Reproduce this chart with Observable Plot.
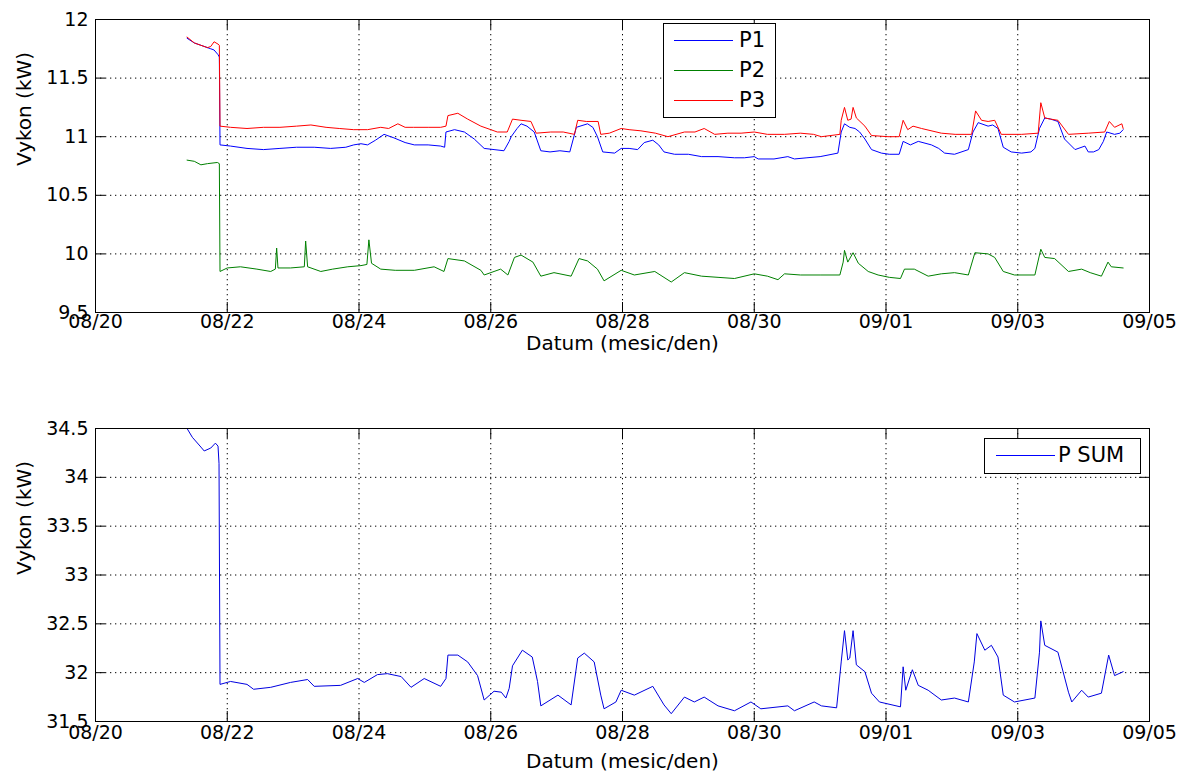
<!DOCTYPE html>
<html>
<head>
<meta charset="utf-8">
<script src="https://cdn.jsdelivr.net/npm/d3@7"></script>
<script src="https://cdn.jsdelivr.net/npm/@observablehq/plot@0.6"></script>
<style>
  body { margin: 0; background: #fff; }
  #wrap { position: relative; width: 1183px; height: 778px; font-family: "DejaVu Sans", sans-serif; background: #fff; }
  #wrap svg { display: block; }
  .legend { position: absolute; background: #fff; border: 1px solid #000; box-sizing: border-box; }
  .legend .ln { position: absolute; height: 0; border-top: 1px solid; }
  .legend .tx { position: absolute; font-size: 21px; line-height: 22px; color: #000; white-space: nowrap; }
</style>
</head>
<body>
<div id="wrap"></div>
<script>
// ---------- data (time in days after 08/20 00:00) ----------
const xTickDays = [0, 2, 4, 6, 8, 10, 12, 14, 16];
const xTickLabels = ["08/20", "08/22", "08/24", "08/26", "08/28", "08/30", "09/01", "09/03", "09/05"];
const yTicksTop = [9.5, 10, 10.5, 11, 11.5, 12];
const yTicksBottom = [31.5, 32, 32.5, 33, 33.5, 34, 34.5];
const yLabel = "Vykon (kW)";
const xLabel = "Datum (mesic/den)";

const t1 = [1.39,1.5,1.6,1.75,1.8,1.86,1.88,1.89,2.05,2.3,2.55,2.8,3.05,3.32,3.57,3.8,3.92,4.03,4.13,4.25,4.38,4.53,4.7,4.84,5.05,5.24,5.30,5.32,5.45,5.6,5.75,5.9,6.05,6.2,6.28,6.31,6.4,6.46,6.55,6.66,6.76,6.9,7.05,7.2,7.3,7.47,7.55,7.62,7.7,7.88,7.98,8.1,8.23,8.33,8.46,8.55,8.63,8.79,9.0,9.2,9.45,9.7,9.85,10.0,10.06,10.3,10.51,10.61,10.8,11.0,11.27,11.32,11.37,11.45,11.53,11.6,11.68,11.78,11.93,12.05,12.2,12.26,12.37,12.49,12.69,12.8,12.89,13.04,13.25,13.32,13.4,13.55,13.62,13.7,13.78,13.9,14.06,14.2,14.26,14.33,14.41,14.5,14.61,14.71,14.87,15.02,15.07,15.15,15.23,15.3,15.35,15.47,15.55,15.6];
const p1 = [11.84,11.80,11.78,11.75,11.74,11.70,11.68,10.93,10.92,10.90,10.89,10.90,10.91,10.91,10.90,10.91,10.93,10.94,10.93,10.97,11.02,10.99,10.95,10.93,10.93,10.92,10.91,11.04,11.06,11.04,10.98,10.90,10.89,10.88,10.96,11.00,11.07,11.11,11.09,11.04,10.88,10.87,10.88,10.87,11.08,11.11,11.08,11.00,10.87,10.86,10.90,10.90,10.89,10.95,10.97,10.93,10.87,10.85,10.85,10.83,10.83,10.82,10.82,10.83,10.81,10.81,10.83,10.81,10.82,10.83,10.86,11.04,11.11,11.08,11.07,11.04,10.98,10.89,10.86,10.85,10.85,10.96,10.93,10.96,10.93,10.90,10.86,10.85,10.89,11.04,11.12,11.09,11.10,11.07,10.91,10.87,10.86,10.87,10.90,11.07,11.16,11.15,11.13,10.98,10.89,10.92,10.87,10.87,10.89,10.96,11.04,11.02,11.03,11.06];

const t2 = [1.39,1.5,1.6,1.7,1.85,1.88,1.89,2.0,2.2,2.45,2.66,2.73,2.75,2.77,2.96,3.17,3.19,3.22,3.42,3.6,3.83,4.03,4.12,4.15,4.19,4.33,4.55,4.84,5.14,5.29,5.35,5.6,5.85,5.9,6.05,6.15,6.26,6.36,6.46,6.64,6.76,6.96,7.22,7.34,7.47,7.62,7.72,7.98,8.18,8.49,8.74,8.94,9.2,9.45,9.7,10.0,10.2,10.36,10.46,10.7,11.0,11.3,11.35,11.37,11.42,11.5,11.58,11.73,11.88,12.05,12.22,12.28,12.43,12.64,12.84,13.04,13.25,13.35,13.55,13.65,13.78,13.95,14.26,14.35,14.41,14.56,14.77,14.97,15.1,15.27,15.37,15.42,15.6];
const p2 = [10.80,10.79,10.76,10.77,10.78,10.77,9.85,9.88,9.89,9.87,9.85,9.87,10.05,9.88,9.88,9.89,10.11,9.89,9.85,9.87,9.89,9.90,9.91,10.12,9.92,9.87,9.86,9.86,9.89,9.85,9.96,9.94,9.86,9.82,9.85,9.87,9.82,9.97,9.99,9.93,9.81,9.84,9.81,9.96,9.94,9.87,9.77,9.86,9.82,9.85,9.76,9.84,9.81,9.80,9.79,9.83,9.81,9.78,9.83,9.82,9.82,9.82,9.93,10.03,9.93,10.01,9.92,9.85,9.82,9.80,9.79,9.87,9.87,9.81,9.83,9.84,9.82,10.01,10.00,9.97,9.85,9.82,9.82,10.04,9.97,9.96,9.85,9.87,9.84,9.81,9.93,9.89,9.88];

const t3 = [1.39,1.5,1.6,1.7,1.75,1.8,1.86,1.88,1.89,2.05,2.3,2.55,2.8,3.05,3.27,3.5,3.7,3.92,4.13,4.33,4.45,4.59,4.7,4.83,5.05,5.24,5.32,5.35,5.5,5.65,5.85,6.0,6.1,6.25,6.33,6.46,6.61,6.69,6.91,7.1,7.27,7.32,7.45,7.63,7.67,7.8,7.98,8.1,8.28,8.5,8.69,8.94,9.1,9.24,9.4,9.6,9.8,10.0,10.2,10.46,10.7,10.9,11.02,11.3,11.32,11.37,11.42,11.47,11.5,11.55,11.68,11.78,12.03,12.2,12.26,12.33,12.41,12.54,12.84,13.05,13.3,13.36,13.45,13.55,13.65,13.75,14.06,14.31,14.35,14.41,14.5,14.61,14.77,15.07,15.32,15.39,15.47,15.58,15.6];
const p3 = [11.85,11.80,11.78,11.76,11.77,11.81,11.79,11.78,11.09,11.08,11.07,11.08,11.08,11.09,11.10,11.08,11.07,11.06,11.06,11.08,11.07,11.11,11.08,11.08,11.08,11.08,11.09,11.18,11.20,11.15,11.09,11.06,11.04,11.04,11.15,11.14,11.13,11.03,11.04,11.04,11.02,11.14,11.13,11.13,11.02,11.03,11.07,11.06,11.05,11.03,11.00,11.04,11.04,11.07,11.02,11.03,11.03,11.04,11.02,11.02,11.03,11.02,11.00,11.02,11.14,11.25,11.14,11.15,11.25,11.16,11.09,11.01,11.00,11.00,11.14,11.06,11.09,11.07,11.03,11.02,11.02,11.22,11.14,11.13,11.14,11.02,11.02,11.03,11.29,11.16,11.15,11.14,11.02,11.03,11.04,11.13,11.08,11.11,11.07];

const tSum = [1.39,1.47,1.6,1.65,1.75,1.82,1.86,1.875,1.89,2.05,2.3,2.4,2.66,2.96,3.22,3.32,3.72,3.98,4.08,4.28,4.43,4.64,4.79,4.99,5.24,5.32,5.35,5.5,5.65,5.8,5.9,6.05,6.16,6.23,6.28,6.33,6.48,6.63,6.71,6.76,7.02,7.22,7.32,7.42,7.57,7.67,7.72,7.9,7.98,8.18,8.46,8.63,8.74,8.94,9.09,9.24,9.45,9.7,9.95,10.1,10.51,10.61,10.91,11.02,11.25,11.32,11.37,11.42,11.45,11.5,11.55,11.68,11.78,11.9,12.22,12.26,12.3,12.4,12.49,12.64,12.84,13.04,13.25,13.34,13.38,13.5,13.6,13.7,13.78,13.95,14.26,14.33,14.35,14.41,14.61,14.77,14.82,14.97,15.07,15.27,15.38,15.47,15.6];
const pSum = [34.50,34.41,34.31,34.27,34.30,34.35,34.32,34.14,31.88,31.91,31.88,31.83,31.85,31.90,31.93,31.86,31.87,31.94,31.90,31.98,31.99,31.96,31.85,31.94,31.86,31.94,32.18,32.18,32.11,31.97,31.72,31.81,31.80,31.74,31.84,32.07,32.23,32.16,31.91,31.66,31.77,31.67,32.15,32.20,32.11,31.77,31.63,31.70,31.82,31.77,31.86,31.67,31.58,31.75,31.70,31.75,31.66,31.61,31.70,31.63,31.66,31.61,31.70,31.66,31.64,32.11,32.43,32.13,32.15,32.43,32.08,32.01,31.79,31.70,31.65,32.06,31.82,32.03,31.87,31.82,31.72,31.74,31.70,32.11,32.40,32.23,32.28,32.16,31.77,31.70,31.74,32.21,32.53,32.28,32.21,31.80,31.70,31.82,31.75,31.79,32.18,31.97,32.01];

// ---------- helpers ----------
const T0 = Date.UTC(2013, 7, 20);
const toDate = d => new Date(T0 + d * 864e5);
const rows = (t, v) => t.map((d, i) => ({date: toDate(d), value: v[i]}));
const xTickDates = xTickDays.map(toDate);
const labelOf = new Map(xTickDates.map((d, i) => [+d, xTickLabels[i]]));

const W = 1183, ML = 95, MR = 34;

function panel({height, marginTop, marginBottom, yDomain, yTicks, lines, tickPadding, labelDy}) {
  const plotH = height - marginTop - marginBottom;
  const plotW = W - ML - MR;
  const dots = {stroke: "#000", strokeWidth: 1, strokeDasharray: "1.3,3.7"};
  return Plot.plot({
    width: W, height, marginLeft: ML, marginRight: MR, marginTop, marginBottom,
    style: {fontFamily: "DejaVu Sans", fontSize: "19px", color: "#000", background: "#fff", overflow: "visible"},
    x: {type: "utc", domain: [xTickDates[0], xTickDates[xTickDates.length - 1]], ticks: xTickDates,
        tickFormat: d => labelOf.get(+d), tickSize: 0, tickPadding, label: null},
    y: {domain: yDomain, ticks: yTicks, tickFormat: d => String(d), tickSize: 0, tickPadding: 7, label: null},
    marks: [
      Plot.ruleY(yTicks, {y: d => d, ...dots}),
      Plot.ruleX(xTickDates, {x: d => d, ...dots}),
      ...lines.map(([data, color]) => Plot.line(data, {x: "date", y: "value", stroke: color, strokeWidth: 1})),
      Plot.tickX(xTickDates, {x: d => d, stroke: "#000", insetTop: plotH - 10}),
      Plot.tickX(xTickDates, {x: d => d, stroke: "#000", insetBottom: plotH - 10}),
      Plot.tickY(yTicks, {y: d => d, stroke: "#000", insetRight: plotW - 10}),
      Plot.tickY(yTicks, {y: d => d, stroke: "#000", insetLeft: plotW - 10}),
      Plot.frame({stroke: "#000", strokeWidth: 1}),
      Plot.text([yLabel], {frameAnchor: "left", dx: -71, rotate: -90, fontSize: 20, fill: "#000"}),
      Plot.text([xLabel], {frameAnchor: "bottom", dy: labelDy, fontSize: 20, fill: "#000"})
    ]
  });
}

const wrap = document.getElementById("wrap");
wrap.appendChild(panel({
  height: 380, marginTop: 19, marginBottom: 68,
  yDomain: [9.5, 12], yTicks: yTicksTop, tickPadding: 2, labelDy: 37,
  lines: [[rows(t1, p1), "#0000ff"], [rows(t2, p2), "#008000"], [rows(t3, p3), "#ff0000"]]
}));
wrap.appendChild(panel({
  height: 398, marginTop: 48, marginBottom: 57,
  yDomain: [31.5, 34.5], yTicks: yTicksBottom, tickPadding: 4, labelDy: 46,
  lines: [[rows(tSum, pSum), "#0000e0"]]
}));

// ---------- legends ----------
function legend(box, entries) {
  const el = document.createElement("div");
  el.className = "legend";
  Object.assign(el.style, {left: box.left + "px", top: box.top + "px", width: box.width + "px", height: box.height + "px"});
  for (const e of entries) {
    const ln = document.createElement("div");
    ln.className = "ln";
    Object.assign(ln.style, {left: box.lineX + "px", width: box.lineW + "px", top: e.y + "px", borderTopColor: e.color});
    const tx = document.createElement("div");
    tx.className = "tx";
    tx.textContent = e.name;
    Object.assign(tx.style, {left: box.textX + "px", top: (e.y - 11) + "px"});
    el.appendChild(ln); el.appendChild(tx);
  }
  wrap.appendChild(el);
}
legend({left: 663, top: 23, width: 113, height: 95, lineX: 10, lineW: 59, textX: 75},
  [{name: "P1", color: "#0000ff", y: 16}, {name: "P2", color: "#008000", y: 46}, {name: "P3", color: "#ff0000", y: 76}]);
legend({left: 984, top: 438, width: 157, height: 36, lineX: 11, lineW: 59, textX: 73},
  [{name: "P SUM", color: "#0000ff", y: 16}]);
</script>
</body>
</html>
